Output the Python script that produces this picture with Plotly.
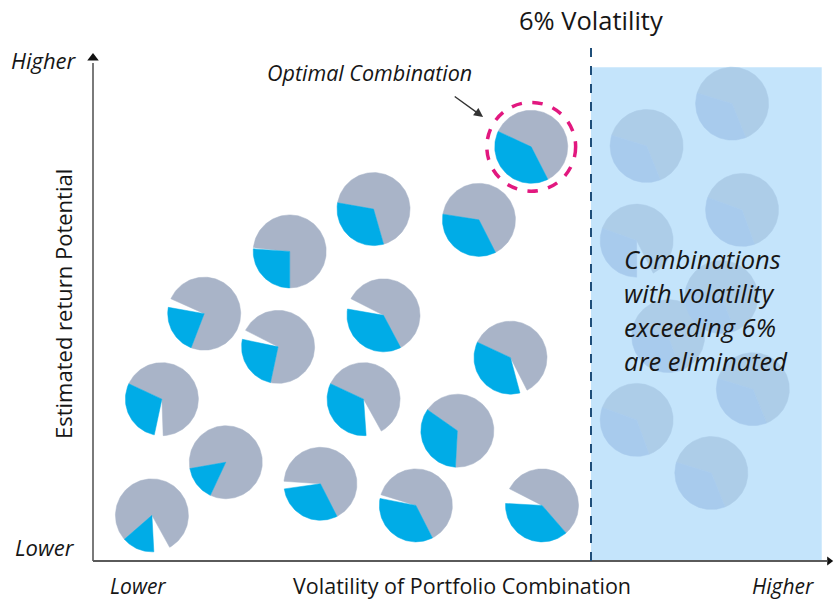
import numpy as np
import plotly.graph_objects as go

# ---------------- data ----------------
# Candidate portfolio combinations (volatility %, return potential score)
pie_vol = [0.71, 1.60, 0.83, 2.23, 1.34, 2.37, 3.38, 3.50, 3.26, 2.74, 4.65, 5.28, 5.03, 4.39, 3.89, 5.41]
pie_ret = [0.55, 1.19, 1.95, 2.58, 2.98, 3.73, 4.24, 2.96, 1.95, 0.93, 4.11, 4.99, 2.45, 1.57, 0.67, 0.67]
# blue slice: start / end angle (degrees clockwise from 12 o'clock)
blue_start = [177, 205, 192, 192, 201, 180, 164, 152, 176, 153, 153, 153, 165, 183, 153, 139]
blue_end = [229, 260, 295, 282, 280, 274, 280, 280, 295, 262, 279, 295, 295, 305, 281, 273]
# empty wedge before blue start / after blue end (degrees)
gap_before = [26, 0, 14, 0, 0, 0, 0, 0, 25, 0, 0, 0, 12, 0, 0, 0]
gap_after = [0, 0, 0, 15, 14, 2, 0, 17, 0, 12, 0, 0, 0, 0, 6, 24]
OPTIMAL = 11  # index of optimal combination

# Eliminated combinations (volatility above 6%)
elim_vol = [7.70, 6.67, 7.82, 6.55, 7.57, 6.93, 7.95, 6.55, 7.45]
elim_ret = [5.51, 5.00, 4.23, 3.86, 3.18, 2.71, 2.07, 1.70, 1.06]
elim_blue_start = [158, 158, 160, 180, 158, 160, 158, 160, 158]
elim_blue_end = [287, 287, 290, 290, 287, 290, 287, 290, 287]
elim_gap_before = [0, 0, 0, 27, 0, 0, 0, 0, 0]

VOL_LIMIT = 6.0
right_text = ["Combinations", "with volatility", "exceeding 6%", "are eliminated"]

# ---------------- style ----------------
R = 0.44
GRAY = "#a9b4c8"
BLUE = "#00ace7"
F_GRAY = "#adcde8"
F_BLUE = "#a8cbed"
ZONE = "#c4e4fb"
FONT = "Open Sans"
TXT = "#161616"

X_RANGE = [-1.1205, 8.9398]
Y_RANGE = [-0.4699, 6.7590]


def sector(cx, cy, a0, a1, r=R):
    ang = np.radians(np.linspace(a0, a1, max(int(abs(a1 - a0) / 2) + 2, 3)))
    xs = [cx] + list(cx + r * np.sin(ang)) + [cx]
    ys = [cy] + list(cy + r * np.cos(ang)) + [cy]
    return xs, ys


def build(vols, rets, b0s, b1s, gbs, gas):
    gx, gy, bx, by = [], [], [], []
    for cx, cy, b0, b1, gb, ga in zip(vols, rets, b0s, b1s, gbs, gas):
        xs, ys = sector(cx, cy, b0, b1)
        bx += xs + [None]
        by += ys + [None]
        xs, ys = sector(cx, cy, b1 + ga, b0 - gb + 360)
        gx += xs + [None]
        gy += ys + [None]
    return gx, gy, bx, by


fig = go.Figure()

# eliminated (faded) pies
gx, gy, bx, by = build(elim_vol, elim_ret, elim_blue_start, elim_blue_end,
                       elim_gap_before, [0] * len(elim_vol))
fig.add_trace(go.Scatter(x=gx, y=gy, fill="toself", fillcolor=F_GRAY, mode="lines",
                         line=dict(color=F_GRAY, width=0.5), hoverinfo="skip"))
fig.add_trace(go.Scatter(x=bx, y=by, fill="toself", fillcolor=F_BLUE, mode="lines",
                         line=dict(color=F_BLUE, width=0.5), hoverinfo="skip"))

# candidate pies
gx, gy, bx, by = build(pie_vol, pie_ret, blue_start, blue_end, gap_before, gap_after)
fig.add_trace(go.Scatter(x=gx, y=gy, fill="toself", fillcolor=GRAY, mode="lines",
                         line=dict(color=GRAY, width=0.5), hoverinfo="skip"))
fig.add_trace(go.Scatter(x=bx, y=by, fill="toself", fillcolor=BLUE, mode="lines",
                         line=dict(color=BLUE, width=0.5), hoverinfo="skip"))

# axis arrowheads
fig.add_trace(go.Scatter(x=[0], y=[6.06], mode="markers",
                         marker=dict(symbol="triangle-up", size=10, color="#111111"),
                         hoverinfo="skip"))
fig.add_trace(go.Scatter(x=[8.87], y=[0], mode="markers",
                         marker=dict(symbol="triangle-right", size=8, color="#111111"),
                         hoverinfo="skip"))

# eliminated zone
fig.add_shape(type="rect", x0=VOL_LIMIT, x1=8.78, y0=0, y1=5.95, xref="x", yref="y",
              fillcolor=ZONE, line=dict(width=0), layer="below")
# axes
fig.add_shape(type="line", x0=0, x1=0, y0=0, y1=6.0, line=dict(color="#7a7a7a", width=2))
fig.add_shape(type="line", x0=0, x1=8.85, y0=0, y1=0, line=dict(color="#5a5a5a", width=2))
# 6% line
fig.add_shape(type="line", x0=VOL_LIMIT, x1=VOL_LIMIT, y0=0, y1=6.22,
              line=dict(color="#1f4e79", width=2, dash="dash"))
# optimal highlight
oc_x, oc_y = pie_vol[OPTIMAL], pie_ret[OPTIMAL]
fig.add_shape(type="circle", x0=oc_x - 0.535, x1=oc_x + 0.535, y0=oc_y - 0.535, y1=oc_y + 0.535,
              line=dict(color="#e2187f", width=3.5, dash="dash"))

ann = []
def txt(x, y, s, size, italic=False, **kw):
    ann.append(dict(x=x, y=y, xref="x", yref="y", text=s, showarrow=False,
                    font=dict(family=FONT, size=size, color=TXT,
                              style="italic" if italic else "normal"), **kw))

txt(-0.59, 6.04, "Higher", 22, True)
txt(-0.58, 0.17, "Lower", 22, True)
txt(0.54, -0.30, "Lower", 21, True)
txt(8.31, -0.30, "Higher", 21, True)
txt(4.45, -0.30, "Volatility of Portfolio Combination", 21.5)
txt(-0.37, 3.1, "Estimated return Potential", 22, textangle=-90)
txt(VOL_LIMIT, 6.52, "6% Volatility", 25.5)
txt(3.33, 5.88, "Optimal Combination", 21.5, True)
for i, line in enumerate(right_text):
    txt(6.37, 3.64 - i * 0.41, line, 25.5, True, xanchor="left")

ann.append(dict(x=4.70, y=5.35, ax=4.34, ay=5.61, xref="x", yref="y", axref="x", ayref="y",
                showarrow=True, arrowhead=2, arrowsize=1.3, arrowwidth=1.4, arrowcolor="#333333",
                text=""))

fig.update_layout(
    width=835, height=600, margin=dict(l=0, r=0, t=0, b=0),
    paper_bgcolor="white", plot_bgcolor="white", showlegend=False,
    xaxis=dict(range=X_RANGE, visible=False, fixedrange=True),
    yaxis=dict(range=Y_RANGE, visible=False, fixedrange=True),
    annotations=ann,
)

fig.write_html("out.html")
